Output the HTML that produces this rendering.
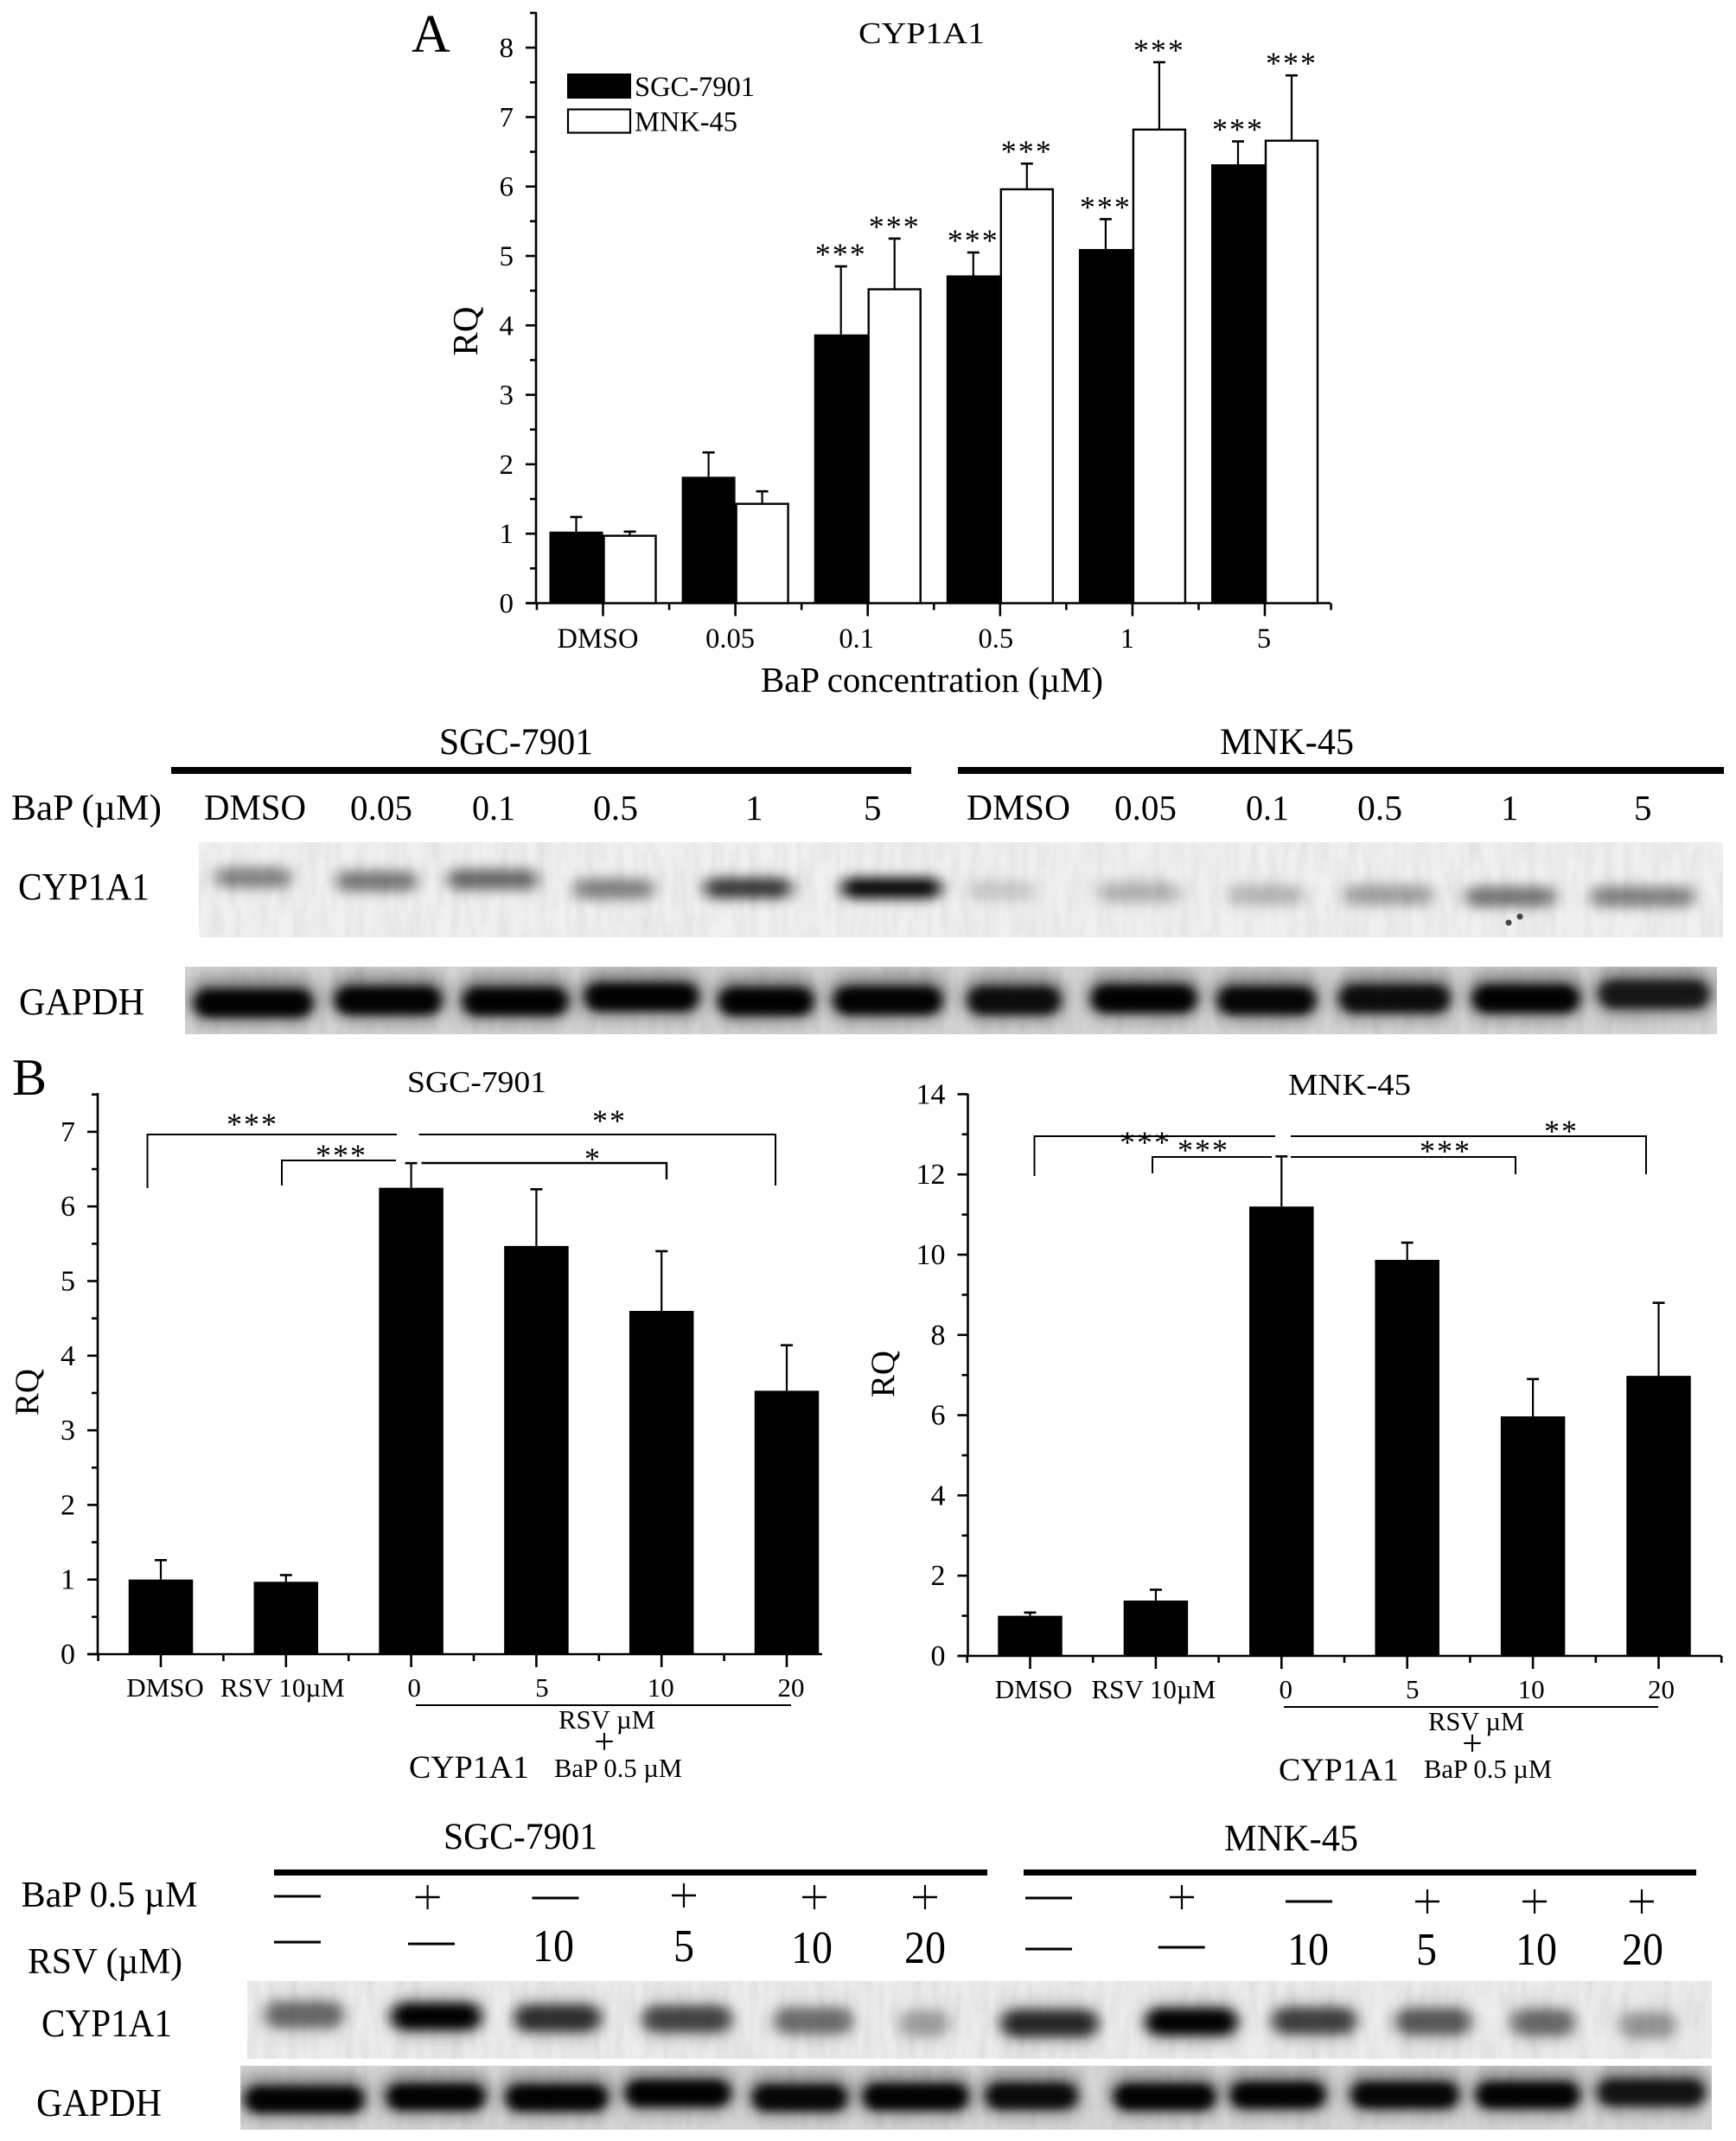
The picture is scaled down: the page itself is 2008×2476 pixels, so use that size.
<!DOCTYPE html>
<html lang="en">
<head>
<meta charset="utf-8">
<title>CYP1A1 expression figure</title>
<style>
html,body{margin:0;padding:0;background:#fff;}
svg{display:block;}
text{font-family:"Liberation Serif","DejaVu Serif",serif;fill:#000;}
</style>
</head>
<body>
<svg id="fig" xmlns="http://www.w3.org/2000/svg" width="2008" height="2476" viewBox="0 0 2008 2476">
<defs>
<filter id="soft" x="-40%" y="-100%" width="180%" height="300%"><feGaussianBlur stdDeviation="9 7"/></filter>
<filter id="softB" x="-40%" y="-100%" width="180%" height="300%"><feGaussianBlur stdDeviation="8 6"/></filter>
<filter id="softer" x="-40%" y="-100%" width="180%" height="300%"><feGaussianBlur stdDeviation="6 5"/></filter>
<filter id="halo" x="-40%" y="-100%" width="180%" height="300%"><feGaussianBlur stdDeviation="8 10"/></filter>
<filter id="streak" x="0" y="0" width="100%" height="100%">
<feTurbulence type="fractalNoise" baseFrequency="0.09 0.02" numOctaves="2" seed="4"/>
<feColorMatrix type="matrix" values="0 0 0 0 0  0 0 0 0 0  0 0 0 0 0  0.5 0 0 0 -0.15"/>
</filter>
</defs>
<rect x="0" y="0" width="2008" height="2476" fill="#fff"/>

<!-- Panel A -->
<text x="476" y="60" font-size="62">A</text>
<text x="993" y="50" font-size="35" textLength="146" lengthAdjust="spacingAndGlyphs">CYP1A1</text>
<rect x="656" y="85" width="74" height="29" fill="#000"/>
<text x="734" y="111" font-size="33" textLength="139" lengthAdjust="spacingAndGlyphs">SGC-7901</text>
<rect x="657" y="126.5" width="72" height="27" fill="#fff" stroke="#000" stroke-width="2.2"/>
<text x="734" y="151.5" font-size="33" textLength="119" lengthAdjust="spacingAndGlyphs">MNK-45</text>
<text transform="translate(552,383) rotate(-90)" text-anchor="middle" font-size="41">RQ</text>
<text x="880" y="800" font-size="41" textLength="396" lengthAdjust="spacingAndGlyphs">BaP concentration (µM)</text>
<g id="panelA"></g>

<!-- Blot A header -->
<text x="508" y="872" font-size="43" textLength="178" lengthAdjust="spacingAndGlyphs">SGC-7901</text>
<text x="1411" y="872" font-size="43" textLength="155" lengthAdjust="spacingAndGlyphs">MNK-45</text>
<rect x="198" y="887" width="856" height="8" fill="#000"/>
<rect x="1108" y="887" width="886" height="8" fill="#000"/>
<text x="13" y="948" font-size="42" textLength="174" lengthAdjust="spacingAndGlyphs">BaP (µM)</text>
<text x="236" y="948" font-size="42" textLength="118" lengthAdjust="spacingAndGlyphs">DMSO</text>
<text x="405" y="948" font-size="41" textLength="72" lengthAdjust="spacingAndGlyphs">0.05</text>
<text x="546" y="948" font-size="41" textLength="50" lengthAdjust="spacingAndGlyphs">0.1</text>
<text x="686" y="948" font-size="41" textLength="52" lengthAdjust="spacingAndGlyphs">0.5</text>
<text x="862" y="948" font-size="41">1</text>
<text x="999" y="948" font-size="41">5</text>
<text x="1118" y="948" font-size="42" textLength="120" lengthAdjust="spacingAndGlyphs">DMSO</text>
<text x="1289" y="948" font-size="41" textLength="72" lengthAdjust="spacingAndGlyphs">0.05</text>
<text x="1441" y="948" font-size="41" textLength="50" lengthAdjust="spacingAndGlyphs">0.1</text>
<text x="1570" y="948" font-size="41" textLength="52" lengthAdjust="spacingAndGlyphs">0.5</text>
<text x="1736" y="948" font-size="41">1</text>
<text x="1890" y="948" font-size="41">5</text>
<text x="21" y="1040" font-size="44" textLength="152" lengthAdjust="spacingAndGlyphs">CYP1A1</text>
<text x="22" y="1173" font-size="44" textLength="145" lengthAdjust="spacingAndGlyphs">GAPDH</text>
<g id="blots"></g>

<!-- Panel B left -->
<text x="14" y="1266" font-size="60">B</text>
<text x="471" y="1263" font-size="35" textLength="161" lengthAdjust="spacingAndGlyphs">SGC-7901</text>
<text transform="translate(44,1610) rotate(-90)" text-anchor="middle" font-size="39">RQ</text>
<g id="panelB1"></g>
<path d="M170.5 1374V1312H459" fill="none" stroke="#000" stroke-width="2"/>
<path d="M326 1371V1342H458" fill="none" stroke="#000" stroke-width="2"/>
<path d="M484.5 1312H897V1371" fill="none" stroke="#000" stroke-width="2"/>
<path d="M487.5 1345H771V1364" fill="none" stroke="#000" stroke-width="2.4"/>
<text x="292" y="1312" text-anchor="middle" font-size="36" letter-spacing="2">***</text>
<text x="395" y="1348" text-anchor="middle" font-size="36" letter-spacing="2">***</text>
<text x="705" y="1308" text-anchor="middle" font-size="36" letter-spacing="2">**</text>
<text x="685" y="1352" text-anchor="middle" font-size="36">*</text>
<line x1="481" y1="1972" x2="915" y2="1972" stroke="#000" stroke-width="2"/>
<text x="646" y="1999" font-size="31" textLength="112" lengthAdjust="spacingAndGlyphs">RSV µM</text>
<text x="699" y="2028" text-anchor="middle" font-size="42">+</text>
<text x="473" y="2056" font-size="37" textLength="139" lengthAdjust="spacingAndGlyphs">CYP1A1</text>
<text x="641" y="2055" font-size="31" textLength="148" lengthAdjust="spacingAndGlyphs">BaP 0.5 µM</text>

<!-- Panel B right -->
<text x="1490" y="1266" font-size="35" textLength="142" lengthAdjust="spacingAndGlyphs">MNK-45</text>
<text transform="translate(1034,1589) rotate(-90)" text-anchor="middle" font-size="39">RQ</text>
<g id="panelB2"></g>
<path d="M1196.5 1360V1314H1475" fill="none" stroke="#000" stroke-width="2"/>
<path d="M1333 1357V1338H1471" fill="none" stroke="#000" stroke-width="2"/>
<path d="M1493 1314H1904V1358" fill="none" stroke="#000" stroke-width="2"/>
<path d="M1493 1338H1753V1358" fill="none" stroke="#000" stroke-width="2"/>
<text x="1325" y="1333" text-anchor="middle" font-size="36" letter-spacing="2">***</text>
<text x="1392" y="1342" text-anchor="middle" font-size="36" letter-spacing="2">***</text>
<text x="1806" y="1320" text-anchor="middle" font-size="36" letter-spacing="2">**</text>
<text x="1672" y="1343" text-anchor="middle" font-size="36" letter-spacing="2">***</text>
<line x1="1485" y1="1974" x2="1918" y2="1974" stroke="#000" stroke-width="2"/>
<text x="1652" y="2001" font-size="31" textLength="111" lengthAdjust="spacingAndGlyphs">RSV µM</text>
<text x="1703" y="2030" text-anchor="middle" font-size="42">+</text>
<text x="1479" y="2059" font-size="37" textLength="139" lengthAdjust="spacingAndGlyphs">CYP1A1</text>
<text x="1647" y="2056" font-size="31" textLength="148" lengthAdjust="spacingAndGlyphs">BaP 0.5 µM</text>

<!-- Blot B header -->
<text x="513" y="2138" font-size="43" textLength="178" lengthAdjust="spacingAndGlyphs">SGC-7901</text>
<text x="1416" y="2140" font-size="43" textLength="155" lengthAdjust="spacingAndGlyphs">MNK-45</text>
<rect x="317" y="2162" width="825" height="7" fill="#000"/>
<rect x="1184" y="2162" width="778" height="7" fill="#000"/>
<text x="24.5" y="2205" font-size="42" textLength="204" lengthAdjust="spacingAndGlyphs">BaP 0.5 µM</text>
<text x="32" y="2282" font-size="42" textLength="179" lengthAdjust="spacingAndGlyphs">RSV (µM)</text>
<g id="treatments"></g>
<text x="48" y="2355" font-size="45" textLength="151" lengthAdjust="spacingAndGlyphs">CYP1A1</text>
<text x="42" y="2447" font-size="45" textLength="145" lengthAdjust="spacingAndGlyphs">GAPDH</text>
</svg>

<script>
/* Panel A data */
const aCategories = ['DMSO', '0.05', '0.1', '0.5', '1', '5'];
const aSgcValues = [1.03, 1.82, 3.87, 4.72, 5.10, 6.32];
const aSgcErrors = [0.21, 0.35, 0.98, 0.33, 0.43, 0.33];
const aSgcStars = ['', '', '***', '***', '***', '***'];
const aMnkValues = [0.97, 1.43, 4.52, 5.96, 6.82, 6.66];
const aMnkErrors = [0.06, 0.18, 0.73, 0.37, 0.97, 0.94];
const aMnkStars = ['', '', '***', '***', '***', '***'];
const aYTicks = [0, 1, 2, 3, 4, 5, 6, 7, 8];

/* Panel B SGC-7901 data */
const b1Categories = ['DMSO', 'RSV 10µM', '0', '5', '10', '20'];
const b1Values = [1.00, 0.97, 6.25, 5.47, 4.60, 3.53];
const b1Errors = [0.26, 0.09, 0.33, 0.76, 0.80, 0.61];
const b1YTicks = [0, 1, 2, 3, 4, 5, 6, 7];

/* Panel B MNK-45 data */
const b2Categories = ['DMSO', 'RSV 10µM', '0', '5', '10', '20'];
const b2Values = [1.00, 1.38, 11.20, 9.87, 5.97, 6.98];
const b2Errors = [0.08, 0.27, 1.25, 0.43, 0.93, 1.82];
const b2YTicks = [0, 2, 4, 6, 8, 10, 12, 14];

const SVGNS = 'http://www.w3.org/2000/svg';
function mk(tag, parent, attrs, content) {
  const el = document.createElementNS(SVGNS, tag);
  for (const k in attrs) el.setAttribute(k, attrs[k]);
  if (content !== undefined) el.textContent = content;
  parent.appendChild(el);
  return el;
}
function line(parent, x1, y1, x2, y2, w) {
  return mk('line', parent, {x1, y1, x2, y2, stroke: '#000', 'stroke-width': w});
}

function drawAxes(g, ax) {
  const yA = (v) => ax.y0 - v * ax.unit;
  let el = line(g, ax.left, ax.y0, ax.left, ax.top, 2.6);
  
  
  el = line(g, ax.left - 12, ax.y0, ax.right, ax.y0, 2.6);
  
  
  ax.yTicks.forEach((t, i) => {
    el = line(g, ax.left - 12, yA(t), ax.left, yA(t), 2.6);
    
    
    el = mk('text', g, {x: ax.left - 26, y: yA(t) + 11, 'text-anchor': 'end', 'font-size': ax.tickFont}, String(t));
    
    
    if (i < ax.yTicks.length - 1) {
      const m = (t + ax.yTicks[i + 1]) / 2;
      el = line(g, ax.left - 7, yA(m), ax.left, yA(m), 2.6);
      
      
    }
  });
  const lastV = ax.yTicks[ax.yTicks.length - 1] + (ax.yTicks[1] - ax.yTicks[0]) / 2;
  if (yA(lastV) > ax.top) {
    el = line(g, ax.left - 7, yA(lastV), ax.left, yA(lastV), 2.6);
    
    
  }
  for (let i = 0; i < ax.n; i++) {
    const c = ax.x0 + i * ax.step;
    el = line(g, c, ax.y0, c, ax.y0 + 15, 2.6);
    
    
  }
  for (let i = 0; i <= ax.n; i++) {
    const c = ax.x0 + (i - 0.5) * ax.step;
    if (c > ax.right + 1) continue;
    el = line(g, c, ax.y0, c, ax.y0 + 8, 2.6);
    
    
  }
  return yA;
}

function drawBar(g, x, w, value, err, yA, filled) {
  let el = mk('rect', g, {
    x: filled ? x : x + 1, y: yA(value),
    width: filled ? w : w - 2, height: yA(0) - yA(value),
    fill: filled ? '#000' : '#fff', stroke: '#000', 'stroke-width': filled ? 0 : 2.4
  });
  
  
  const cx = x + w / 2;
  const top = yA(value + err);
  el = line(g, cx, yA(value), cx, top, 2.2);
  
  
  el = line(g, cx - 7, top, cx + 7, top, 2.6);
  
  
  return {cx, top};
}

/* Panel A */
(function () {
  const g = document.getElementById('panelA');
  const ax = {left: 620, right: 1539, top: 14, y0: 697.5, unit: 80.3, x0: 697.5, step: 153.1, n: aCategories.length, yTicks: aYTicks, tickFont: 33};
  const yA = drawAxes(g, ax);
  const barW = 62;
  const nudge = [-6, -6, -13, -5, -6, -1];
  aCategories.forEach((cat, i) => {
    const c = ax.x0 + i * ax.step;
    const s = drawBar(g, c - barW, barW, aSgcValues[i], aSgcErrors[i], yA, true);
    const m = drawBar(g, c, barW, aMnkValues[i], aMnkErrors[i], yA, false);
    if (aSgcStars[i]) {
      let st = mk('text', g, {x: s.cx, y: s.top - 2, 'text-anchor': 'middle', 'font-size': 36, 'letter-spacing': 2}, aSgcStars[i]);
      
      
    }
    if (aMnkStars[i]) {
      let st = mk('text', g, {x: m.cx, y: m.top - 2, 'text-anchor': 'middle', 'font-size': 36, 'letter-spacing': 2}, aMnkStars[i]);
      
      
    }
    const lab = mk('text', g, {x: c + nudge[i], y: 749, 'text-anchor': 'middle', 'font-size': 32.5}, cat);
    
    
  });
})();

/* Panels B */
function drawPanelB(id, categories, values, errors, yTicks, ax, nudge) {
  const g = document.getElementById(id);
  ax.n = categories.length;
  ax.yTicks = yTicks;
  ax.tickFont = 34;
  const yA = drawAxes(g, ax);
  const barW = 74.5;
  categories.forEach((cat, i) => {
    const c = ax.x0 + i * ax.step;
    drawBar(g, c - barW / 2, barW, values[i], errors[i], yA, true);
    const lab = mk('text', g, {x: c + nudge[i], y: ax.y0 + 49, 'text-anchor': 'middle', 'font-size': 31}, cat);
    
    
  });
}
drawPanelB('panelB1', b1Categories, b1Values, b1Errors, b1YTicks,
  {left: 113, right: 951, top: 1264, y0: 1913, unit: 86.3, x0: 186, step: 144.8}, [5, -4, 3.5, 6.5, -1, 5]);
drawPanelB('panelB2', b2Categories, b2Values, b2Errors, b2YTicks,
  {left: 1119.5, right: 1991, top: 1265, y0: 1915, unit: 46.4, x0: 1191.5, step: 145.4}, [4, -2.5, 5, 6, -2, 3]);

/* Western blots: each lane is [centre x, centre y, half width, darkness] */
const cypALanes = [[293,1015,44,.46],[436,1019,47,.50],[570,1017,53,.56],[710,1028,47,.46],[865,1027,51,.76],[1031,1027,58,.98],[1160,1030,40,.16],[1318,1032,48,.25],[1465,1035,45,.23],[1606,1035,53,.33],[1747,1037,53,.50],[1900,1037,60,.46]];
const gapdhALanes = [[293,1160,68,.98],[449,1157,61,.98],[596,1158,60,.98],[742,1153,65,.98],[886,1158,54,.98],[1027,1157,62,.98],[1173,1157,53,.9],[1323,1155,60,.98],[1465,1157,56,.95],[1613,1155,63,.9],[1765,1155,61,.98],[1913,1150,63,.82]];
const cypBLanes = [[352,2330,45,.48],[504.5,2332,51,1],[645,2334,49,.74],[795,2335,51,.64],[941,2337,45,.46],[1069,2340,28,.27],[1214,2340,55,.78],[1378,2338,52,1],[1520,2337,48,.66],[1658,2338,43,.55],[1785,2339,36,.48],[1906,2342,32,.30]];
const gapdhBLanes = [[352,2428,68,.98],[504,2425,56,.98],[644,2426,58,.98],[784,2421,60,.98],[925,2426,54,.95],[1059,2425,60,.98],[1193,2424,52,.92],[1347,2425,58,.98],[1478,2423,54,.98],[1625,2423,61,.95],[1767,2423,59,.98],[1910,2420,61,.85]];

function blotPanel(name, x, y, w, h, bg, streakOpacity) {
  const parent = document.getElementById('blots');
  const g = mk('g', parent, {});
  
  
  const clipId = name + '-clip';
  const cp = mk('clipPath', g, {id: clipId});
  mk('rect', cp, {x, y, width: w, height: h});
  const inner = mk('g', g, {'clip-path': 'url(#' + clipId + ')'});
  mk('rect', inner, {x, y, width: w, height: h, fill: bg});
  mk('rect', inner, {x, y, width: w, height: h, filter: 'url(#streak)', opacity: streakOpacity});
  return inner;
}
function band(parent, b, hh, filter) {
  const el = mk('rect', parent, {x: b[0] - b[2], y: b[1] - hh, width: 2 * b[2], height: 2 * hh, rx: hh, ry: hh, fill: '#000', 'fill-opacity': b[3], filter: 'url(#' + filter + ')'});
  return el;
}

const cypA = blotPanel('blot-a-cyp1a1', 230, 974, 1763, 110, '#f0f0f0', 0.18);
cypALanes.forEach((b) => {
  const el = band(cypA, b, 12, 'soft');
  
  
});
[[1758, 1060], [1745, 1067]].forEach((p) => {
  const spot = mk('circle', cypA, {cx: p[0], cy: p[1], r: 3.5, fill: '#444'});
  
  
});

const gapA = blotPanel('blot-a-gapdh', 214, 1118, 1772, 78, '#d6d6d6', 0.18);
gapdhALanes.forEach((b) => {
  const halo = band(gapA, [b[0], b[1] - 3, b[2] + 8, .42], 26, 'halo');
  
  
  const el = band(gapA, b, 16, 'softer');
  
  
});

const cypB = blotPanel('blot-b-cyp1a1', 286, 2291, 1694, 90, '#ececec', 0.18);
cypBLanes.forEach((b) => {
  const halo = band(cypB, [b[0], b[1], b[2] + 4, b[3] * .3], 23, 'halo');
  
  
  const el = band(cypB, b, 15, 'softB');
  
  
});

const gapB = blotPanel('blot-b-gapdh', 278, 2389, 1702, 74, '#d8d8d8', 0.18);
gapdhBLanes.forEach((b) => {
  const halo = band(gapB, [b[0], b[1] - 3, b[2] + 8, .42], 24, 'halo');
  
  
  const el = band(gapB, b, 15, 'softer');
  
  
});

/* Treatment marks above blot B */
const bapRow = ['-', '+', '-', '+', '+', '+', '-', '+', '-', '+', '+', '+'];
const rsvRow = ['-', '-', '10', '5', '10', '20', '-', '-', '10', '5', '10', '20'];
(function () {
  const g = document.getElementById('treatments');
  const bapX = [344, 494.6, 642.5, 791, 942, 1070, 1213, 1367, 1514, 1651, 1775, 1899];
  const bapY = [2193, 2194, 2195, 2192, 2194, 2194, 2195, 2194, 2199, 2199, 2199, 2199];
  const rsvX = [344, 499, 640, 791, 939, 1070, 1213, 1366.7, 1513, 1650, 1777, 1900];
  const rsvY = [2246, 2248, 2268, 2268, 2270, 2270, 2254, 2252, 2272, 2272, 2272, 2272];
  bapRow.forEach((s, i) => {
    if (s === '-') {
      const m = line(g, bapX[i] - 27, bapY[i], bapX[i] + 27, bapY[i], 3);
      
      
    } else {
      const h = line(g, bapX[i] - 14, bapY[i], bapX[i] + 14, bapY[i], 2.6);
      
      
      const v = line(g, bapX[i], bapY[i] - 14, bapX[i], bapY[i] + 14, 2.2);
      
      
    }
  });
  rsvRow.forEach((s, i) => {
    if (s === '-') {
      const m = line(g, rsvX[i] - 27, rsvY[i], rsvX[i] + 27, rsvY[i], 3);
      
      
    } else {
      const t = mk('text', g, {x: rsvX[i], y: rsvY[i], 'text-anchor': 'middle', 'font-size': 53, textLength: s.length * 24, lengthAdjust: 'spacingAndGlyphs'}, s);
      
      
    }
  });
})();
</script>
</body>
</html>
